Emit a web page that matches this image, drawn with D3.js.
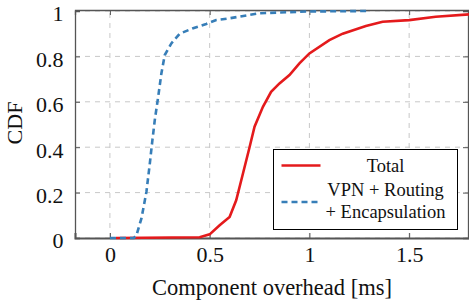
<!DOCTYPE html>
<html>
<head>
<meta charset="UTF-8">
<script src="https://d3js.org/d3.v7.min.js"></script>
<style>
    body { margin: 0; background: white; }
    text { font-family: 'Liberation Serif', 'Times New Roman', serif; fill: #111; }
</style>
</head>
<body>
<svg id="chart" width="469" height="300"></svg>
<script>
// CDF of component overhead
const totalX = [0.03, 0.45, 0.5, 0.55, 0.6, 0.633, 0.667, 0.70, 0.725, 0.767, 0.808, 0.85, 0.9, 0.95, 1.0, 1.1, 1.167, 1.283, 1.367, 1.5, 1.633, 1.8];
const totalY = [0, 0.003, 0.016, 0.056, 0.093, 0.166, 0.284, 0.40, 0.49, 0.578, 0.644, 0.681, 0.718, 0.769, 0.813, 0.872, 0.90, 0.934, 0.953, 0.96, 0.975, 0.985];
const vpnX = [0, 0.12, 0.133, 0.158, 0.183, 0.2, 0.213, 0.225, 0.242, 0.258, 0.275, 0.308, 0.35, 0.417, 0.483, 0.533, 0.6, 0.75, 1.0, 1.3];
const vpnY = [0, 0, 0.012, 0.086, 0.203, 0.328, 0.431, 0.52, 0.622, 0.725, 0.806, 0.857, 0.90, 0.924, 0.943, 0.96, 0.968, 0.99, 0.998, 1.0];
const xTicks = [0, 0.5, 1, 1.5];
const yTicks = [0, 0.2, 0.4, 0.6, 0.8, 1];
const seriesNames = ["Total", ["VPN + Routing", "+ Encapsulation"]];

const margin = { top: 11, right: 0, bottom: 62, left: 75 };
const width = 469, height = 300;

const svg = d3.select("#chart");

const x = d3.scaleLinear().domain([-0.175, 1.8]).range([margin.left, width - margin.right]);
const y = d3.scaleLinear().domain([0, 1]).range([height - margin.bottom, margin.top]);

// grid
svg.append("g").selectAll("line")
    .data(xTicks).enter().append("line")
    .attr("x1", d => x(d)).attr("x2", d => x(d))
    .attr("y1", y(0)).attr("y2", y(1) - 1)
    .attr("stroke", "#c8c8c8").attr("stroke-dasharray", "5,5");
svg.append("g").selectAll("line")
    .data(yTicks).enter().append("line")
    .attr("x1", x.range()[0]).attr("x2", x.range()[1])
    .attr("y1", d => y(d)).attr("y2", d => y(d))
    .attr("stroke", "#c8c8c8").attr("stroke-dasharray", "5,5");

// axes (ticks inside)
const xAxis = svg.append("g")
    .attr("transform", `translate(0,${y(0)})`)
    .call(d3.axisBottom(x).tickValues(xTicks).tickSize(-5).tickFormat(d3.format("")));
const xTop = svg.append("g")
    .attr("transform", `translate(0,${y(1) - 1})`)
    .call(d3.axisTop(x).tickValues(xTicks).tickSize(-5).tickFormat(""));
const yAxis = svg.append("g")
    .attr("transform", `translate(${x.range()[0]},0)`)
    .call(d3.axisLeft(y).tickValues(yTicks).tickSize(-5).tickFormat(d3.format("")));
const yRight = svg.append("g")
    .attr("transform", `translate(${x.range()[1] - 1},0)`)
    .call(d3.axisRight(y).tickValues(yTicks).tickSize(-5).tickFormat(""));

[xAxis, xTop, yAxis, yRight].forEach(g => {
    g.select(".domain").attr("stroke", "#555").attr("stroke-width", 1.3);
    g.selectAll(".tick line").attr("stroke", "#555");
    g.selectAll("text").style("font-size", "22px")
        .style("font-family", "'Liberation Serif', serif").attr("fill", "#111");
});
xAxis.select(".domain").attr("stroke-width", 2);
xAxis.selectAll("text").attr("y", 24).attr("dy", 0);
yAxis.selectAll("text").attr("x", -11.5).attr("dy", "0.45em");

// curves
const line = d3.line().x(d => x(d[0])).y(d => y(d[1]));
svg.append("path")
    .datum(totalX.map((v, i) => [v, totalY[i]]))
    .attr("d", line).attr("fill", "none")
    .attr("stroke", "#e41a1c").attr("stroke-width", 2.6);
svg.append("path")
    .datum(vpnX.map((v, i) => [v, vpnY[i]]))
    .attr("d", line).attr("fill", "none")
    .attr("stroke", "#377eb8").attr("stroke-width", 2.6)
    .attr("stroke-dasharray", "6,4");

// axis titles
svg.append("text")
    .attr("x", (x.range()[0] + x.range()[1]) / 2)
    .attr("y", 295)
    .attr("text-anchor", "middle")
    .style("font-size", "22.5px")
    .text("Component overhead [ms]");
svg.append("text")
    .attr("transform", "translate(22,123) rotate(-90)")
    .attr("text-anchor", "middle")
    .style("font-size", "22px")
    .text("CDF");

// legend
const lg = svg.append("g").attr("transform", "translate(273.5,149.5)");
lg.append("rect").attr("width", 184).attr("height", 80)
    .attr("fill", "white").attr("stroke", "black").attr("stroke-width", 1);
lg.append("line").attr("x1", 8).attr("x2", 47).attr("y1", 16).attr("y2", 16)
    .attr("stroke", "#e41a1c").attr("stroke-width", 2.6);
lg.append("line").attr("x1", 8).attr("x2", 47).attr("y1", 52.5).attr("y2", 52.5)
    .attr("stroke", "#377eb8").attr("stroke-width", 2.6).attr("stroke-dasharray", "6,4");
lg.append("text").attr("x", 112).attr("y", 22)
    .attr("text-anchor", "middle").style("font-size", "18.5px").text(seriesNames[0]);
lg.append("text").attr("x", 112).attr("y", 46)
    .attr("text-anchor", "middle").style("font-size", "18.5px").text(seriesNames[1][0]);
lg.append("text").attr("x", 112).attr("y", 68)
    .attr("text-anchor", "middle").style("font-size", "18.5px").text(seriesNames[1][1]);
</script>
</body>
</html>
